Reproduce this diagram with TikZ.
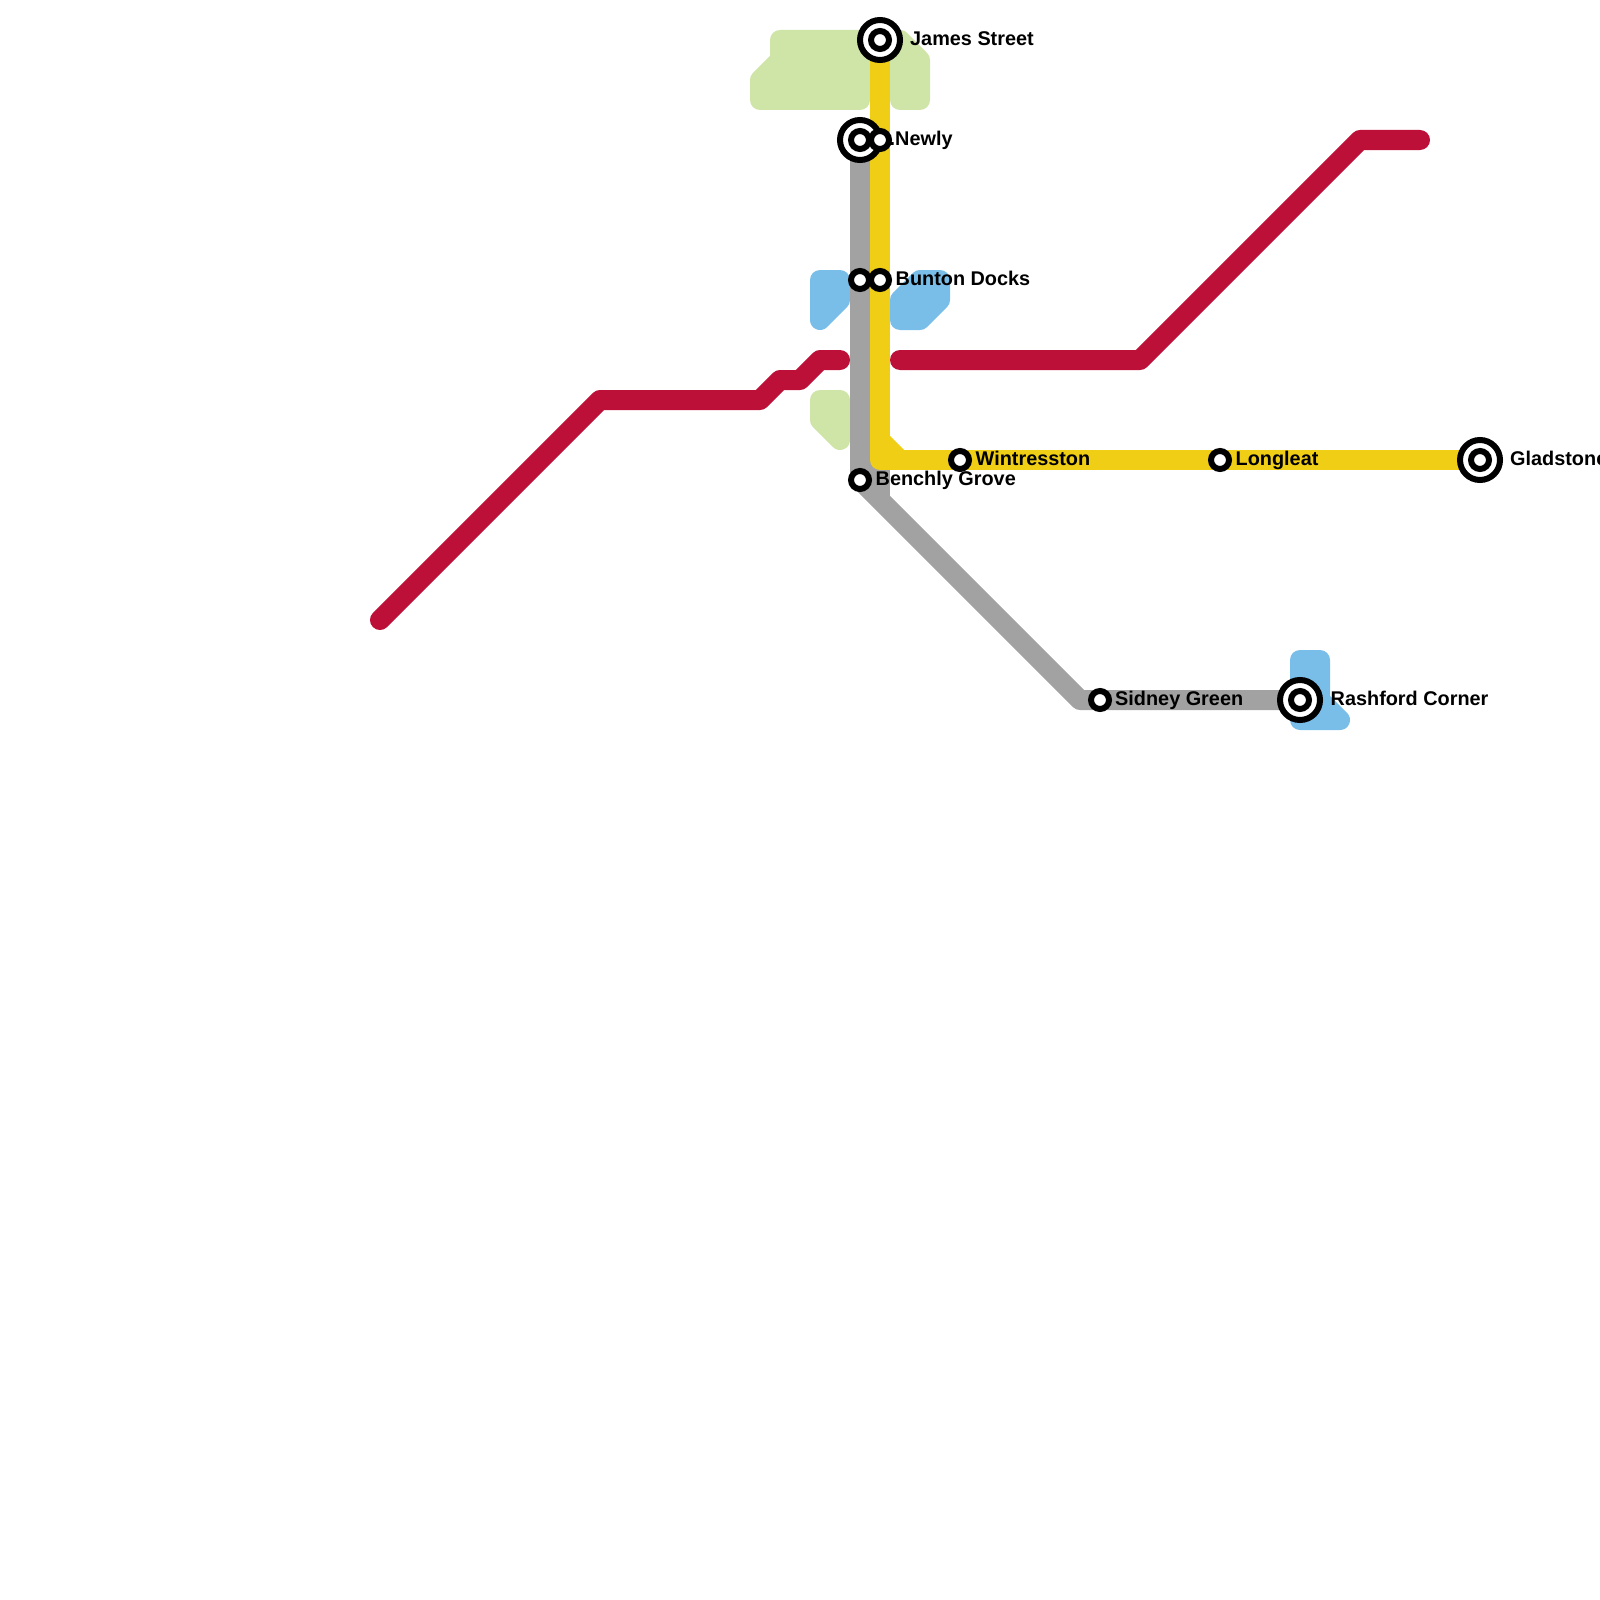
\documentclass[tikz,border=0pt]{standalone}
\usepackage{fontspec}
\setmainfont{Liberation Sans}
\usetikzlibrary{backgrounds}
\definecolor{lred}{HTML}{BD1038}
\definecolor{lyel}{HTML}{F0CE15}
\definecolor{lgry}{HTML}{A2A2A2}
\definecolor{wat}{HTML}{79BDE9}
\definecolor{prk}{HTML}{CFE4A7}
\tikzset{
  stn/.style={circle,draw=black,fill=white,line width=6pt,minimum size=18pt,inner sep=0pt},
  hub/.style={stn,minimum size=40pt},
  lbl/.style={anchor=base west,inner sep=0pt,font=\fontsize{19.85pt}{20pt}\selectfont\bfseries},
  ln/.style={line width=20pt,line join=round},
  area/.style={line width=20pt,line join=round,fill=#1,draw=#1},
}

\begin{document}
\begin{tikzpicture}[x=1pt,y=-1pt]
  \clip (0,0) rectangle (1600,1600);
  % stations
  \node[hub] (jamesh) at (880,40) {};
  \node[stn] (james) at (880,40) {};
  \node[hub] (newlygh) at (860,140) {};
  \node[stn] (newlyg) at (860,140) {};
  \node[stn] (newly) at (880,140) {};
  \node[stn] (buntong) at (860,280) {};
  \node[stn] (bunton) at (880,280) {};
  \node[stn] (benchly) at (860,480) {};
  \node[stn] (wint) at (960,460) {};
  \node[stn] (longl) at (1220,460) {};
  \node[hub] (gladh) at (1480,460) {};
  \node[stn] (glad) at (1480,460) {};
  \node[stn] (sidney) at (1100,700) {};
  \node[hub] (rashh) at (1300,700) {};
  \node[stn] (rash) at (1300,700) {};
  % labels
  \node[lbl] (tjames) at (910,46) {James Street};
  \node[lbl] (tnewly) at (889.5,146) {.Newly};
  \node[lbl] (tbunton) at (895.5,285) {Bunton Docks};
  \node[lbl] (tbenchly) at (875.5,485) {Benchly Grove};
  \node[lbl] (twint) at (975.5,465) {Wintresston};
  \node[lbl] (tlongl) at (1235.5,465) {Longleat};
  \node[lbl] (tglad) at (1510,465) {Gladstone};
  \node[lbl] (tsidney) at (1115,705) {Sidney Green};
  \node[lbl] (trash) at (1330.5,705) {Rashford Corner};
  \begin{scope}[on background layer]
    % parks and water
    \draw[area=prk] (780,40) -- (860,40) -- (860,100) -- (760,100) -- (760,80) -- (780,60) -- cycle;
    \draw[area=prk] (900,40) -- (920,60) -- (920,100) -- (900,100) -- cycle;
    \draw[area=prk] (820,400) -- (840,400) -- (840,440) -- (820,420) -- cycle;
    \draw[area=wat] (820,280) -- (840,280) -- (840,300) -- (820,320) -- cycle;
    \draw[area=wat] (920,280) -- (940,280) -- (940,300) -- (920,320) -- (900,320) -- (900,300) -- cycle;
    \draw[area=wat] (1300,660) -- (1320,660) -- (1320,700) -- (1340,720) -- (1300,720) -- cycle;
    % lines
    \coordinate (rs) at (380,620);
    \coordinate (re) at (840,360);
    \coordinate (rs2) at (900,360);
    \coordinate (re2) at (1420,140);
    \draw[ln,lred,line cap=round] (rs) -- (600,400) -- (760,400) -- (780,380) -- (800,380) -- (820,360) -- (re);
    \draw[ln,lred,line cap=round] (rs2) -- (1140,360) -- (1360,140) -- (re2);
    \draw[ln,lgry] (newlyg.center) -- (benchly.center) -- (1080,700) -- (rash.center);
    \draw[ln,lgry] (880,460) -- (880,500);
    \draw[ln,lyel] (james.center) -- (880,460) -- (glad.center);
    \draw[ln,lyel] (880,440) -- (900,460);
  \end{scope}
\end{tikzpicture}
\end{document}
